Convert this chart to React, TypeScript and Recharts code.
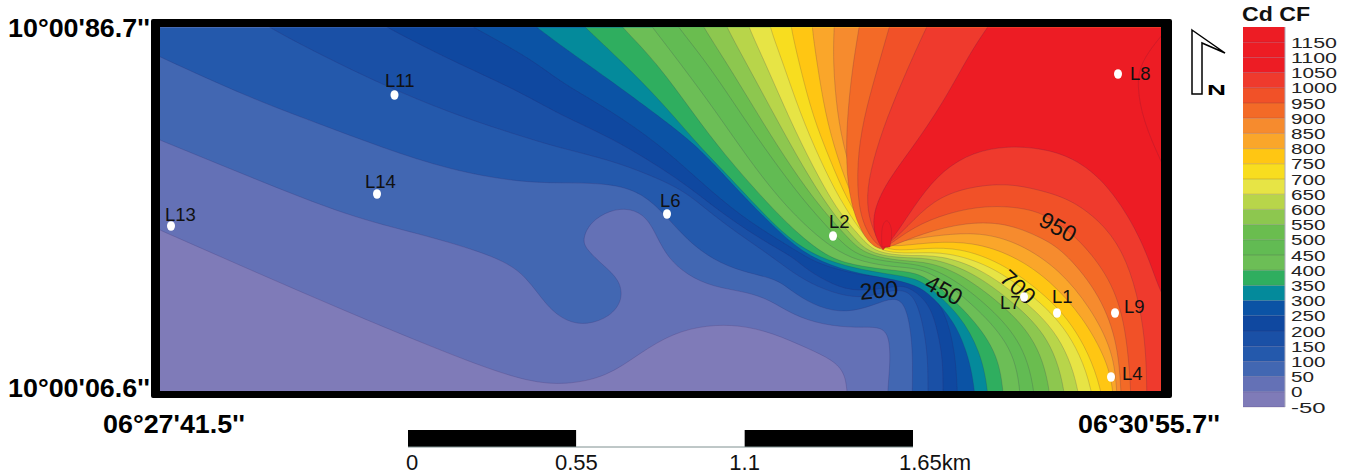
import {
  Bar,
  BarChart,
  ReferenceLine,
  Scatter,
  ScatterChart,
  XAxis,
  YAxis,
} from "recharts";

type Pt = [number, number];

// grid units of the map. x grows east, y grows south
const mapXDomain = [160, 1161];
const mapYDomain = [27.5, 391];

const cfLevels = [
  -50, 0, 50, 100, 150, 200, 250, 300, 350, 400, 450, 500, 550, 600, 650, 700,
  750, 800, 850, 900, 950, 1000, 1050, 1100, 1150,
];
const cfColors = [
  "#7F7BB8", "#6471B6", "#4267B2", "#2459AC", "#1A50A6", "#0F48A0", "#0B53A5",
  "#048A9B", "#2FAE5F", "#6CBE56", "#62BB53", "#6ABD4F", "#8DC74F", "#B8D54A",
  "#E7E445", "#F8DD1F", "#FFC613", "#FAA62A", "#F68B2E", "#F36A27", "#F15128",
  "#EF3A2D", "#ED1C24", "#ED1C24", "#ED1C24",
];

const line0: Pt[] = [[100, -100], [125, 215], [160, 230], [255, 272], [350, 313], [420, 342], [483, 367], [530, 382], [565, 385], [607, 377], [640, 353], [673, 333], [707, 325], [740, 325], [773, 333], [807, 348], [833, 360], [845, 373], [848, 395], [850, 480]];
const line50: Pt[] = [[100, -100], [120, 124], [160, 140], [250, 177], [350, 217], [417, 233], [500, 257], [527, 277], [547, 307], [567, 322], [587, 325], [610, 317], [623, 300], [620, 280], [603, 265], [587, 250], [582, 240], [590, 222], [610, 210], [630, 208], [647, 217], [657, 237], [668, 258], [687, 275], [713, 287], [747, 292], [770, 300], [793, 315], [823, 325], [857, 328], [883, 326], [890, 340], [890, 367], [887, 395], [885, 480]];
const line100: Pt[] = [[100, -100], [120, 38], [160, 57], [250, 98], [317, 123], [383, 148], [450, 170], [517, 182], [560, 183], [610, 183], [643, 193], [667, 217], [687, 240], [713, 260], [743, 272], [777, 279], [790, 290], [813, 305], [840, 313], [867, 308], [890, 298], [903, 300], [910, 323], [913, 357], [912, 395], [912, 480]];
const line150: Pt[] = [[230, -100], [250, 15], [270, 28], [317, 53], [383, 85], [450, 113], [517, 135], [560, 148], [610, 160], [650, 175], [683, 190], [707, 210], [737, 233], [767, 253], [793, 273], [817, 287], [847, 297], [870, 297], [890, 290], [913, 290], [923, 323], [928, 357], [928, 395], [928, 480]];
const line200: Pt[] = [[350, -100], [365, 15], [388, 28], [450, 60], [517, 90], [560, 115], [610, 137], [660, 167], [693, 190], [727, 217], [767, 243], [793, 257], [807, 270], [833, 285], [857, 292], [893, 287], [907, 285], [930, 303], [938, 333], [943, 360], [943, 395], [943, 480]];
const line250: Pt[] = [[440, -100], [455, 17], [475, 28], [533, 60], [560, 82], [610, 110], [660, 145], [693, 175], [733, 210], [767, 233], [800, 253], [820, 265], [870, 278], [900, 275], [925, 285], [945, 310], [955, 350], [958, 395], [958, 480]];
const line300: Pt[] = [[500, -100], [520, 15], [538, 28], [560, 45], [607, 78], [660, 117], [693, 143], [713, 163], [747, 200], [780, 233], [810, 258], [853, 273], [887, 278], [917, 285], [933, 297], [953, 320], [967, 350], [977, 395], [977, 480]];
const line350: Pt[] = [[560, -100], [572, 15], [586, 28], [620, 60], [660, 100], [700, 147], [720, 167], [757, 207], [790, 240], [820, 258], [853, 268], [887, 274], [917, 278], [933, 290], [960, 315], [980, 350], [990, 395], [990, 480]];
const line400: Pt[] = [[600, -100], [612, 15], [623, 28], [657, 63], [693, 113], [723, 153], [767, 203], [797, 233], [827, 257], [853, 265], [887, 270], [917, 272], [937, 285], [967, 312], [997, 350], [1005, 395], [1005, 480]];
const line450: Pt[] = [[630, -100], [643, 15], [653, 28], [683, 67], [717, 113], [747, 157], [780, 200], [813, 233], [840, 253], [863, 262], [893, 267], [920, 268], [943, 280], [977, 308], [1013, 347], [1022, 395], [1022, 480]];
const line500: Pt[] = [[660, -100], [670, 15], [679, 28], [710, 67], [743, 117], [773, 160], [803, 200], [830, 230], [850, 251], [870, 259], [900, 263], [923, 265], [953, 278], [990, 307], [1023, 343], [1037, 395], [1037, 480]];
const line550: Pt[] = [[690, -100], [697, 15], [704, 28], [733, 73], [763, 123], [793, 170], [820, 207], [847, 237], [860, 250], [877, 257], [903, 261], [930, 262], [963, 275], [1003, 305], [1037, 340], [1053, 395], [1053, 480]];
const line600: Pt[] = [[715, -100], [722, 15], [727, 28], [750, 70], [777, 120], [803, 167], [830, 210], [853, 237], [866, 250], [883, 256], [907, 258], [933, 258], [973, 272], [1013, 302], [1050, 337], [1068, 395], [1068, 480]];
const line650: Pt[] = [[740, -100], [745, 15], [749, 28], [767, 67], [790, 120], [813, 167], [837, 210], [857, 233], [871, 249], [887, 254], [910, 256], [940, 255], [980, 268], [1020, 297], [1060, 333], [1083, 395], [1083, 480]];
const line700: Pt[] = [[765, -100], [768, 15], [770, 28], [783, 63], [800, 113], [820, 160], [840, 200], [860, 230], [875, 248], [892, 253], [917, 253], [947, 252], [990, 265], [1030, 293], [1070, 330], [1097, 395], [1097, 480]];
const line750: Pt[] = [[788, -100], [790, 15], [791, 28], [800, 67], [813, 117], [830, 160], [847, 200], [865, 228], [879, 247], [898, 251], [927, 248], [960, 248], [1000, 262], [1040, 290], [1077, 327], [1107, 395], [1107, 480]];
const line800: Pt[] = [[812, -100], [812, 15], [812, 28], [817, 63], [825, 113], [837, 157], [853, 200], [868, 227], [882, 246], [902, 246], [933, 242], [973, 242], [1013, 255], [1050, 280], [1083, 317], [1107, 360], [1115, 395], [1115, 480]];
const line850: Pt[] = [[836, -100], [835, 15], [834, 28], [833, 63], [837, 113], [845, 153], [857, 190], [870, 223], [885, 244], [907, 240], [940, 235], [980, 232], [1020, 243], [1060, 270], [1090, 307], [1113, 350], [1118, 395], [1118, 480]];
const line900: Pt[] = [[868, -100], [861, 15], [859, 28], [852, 70], [847, 120], [846, 163], [850, 203], [863, 237], [878, 250], [888, 248], [923, 233], [967, 222], [1007, 223], [1040, 237], [1063, 250], [1097, 290], [1117, 337], [1122, 395], [1122, 480]];
const line950: Pt[] = [[905, -100], [893, 15], [889, 28], [877, 70], [863, 120], [857, 163], [858, 207], [867, 233], [880, 248], [887, 247], [913, 227], [947, 213], [987, 205], [1027, 208], [1050, 217], [1077, 237], [1107, 273], [1125, 317], [1132, 395], [1132, 480]];
const line1000: Pt[] = [[960, -100], [933, 15], [926, 28], [907, 70], [887, 117], [872, 163], [866, 197], [870, 223], [880, 244], [887, 246], [907, 227], [933, 200], [967, 187], [1007, 183], [1040, 190], [1073, 200], [1107, 227], [1127, 260], [1140, 305], [1146, 350], [1147, 395], [1147, 480]];
const line1050: Pt[] = [[1050, -100], [996, 15], [987, 28], [970, 53], [943, 103], [913, 147], [883, 187], [872, 217], [875, 237], [883, 250], [883, 250], [883, 250], [897, 233], [920, 197], [943, 170], [973, 152], [1007, 146], [1040, 148], [1073, 157], [1107, 183], [1137, 230], [1153, 270], [1170, 320]];
// the two small closures of the top classes, same red, only their line shows
const line1100: Pt[] = [[882, 247], [882, 247], [881, 227], [887, 217], [893, 230], [890, 247], [890, 247]];
const line1150: Pt[] = [[1175, 20], [1160, 37], [1140, 63], [1137, 87], [1143, 120], [1160, 160], [1180, 200], [1300, 200], [1300, 20]];

const farEdge: Pt[] = [[1300, 480], [1300, 480], [1300, 480], [1300, -100], [1300, -100], [1300, -100]];
const outerBox: Pt[] = [[-200, -200], [-200, -200], [-200, -200], [1500, -200], [1500, -200], [1500, -200], [1500, 700], [1500, 700], [1500, 700], [-200, 700], [-200, 700], [-200, 700]];

const contourLines: Pt[][] = [
  outerBox, line0, line50, line100, line150, line200, line250, line300, line350,
  line400, line450, line500, line550, line600, line650, line700, line750,
  line800, line850, line900, line950, line1000, line1050,
];

const stations = [
  { name: "L11", x: 394.5, y: 95 },
  { name: "L14", x: 377, y: 194 },
  { name: "L13", x: 171, y: 226 },
  { name: "L6", x: 667, y: 214 },
  { name: "L2", x: 833, y: 236 },
  { name: "L8", x: 1118, y: 74 },
  { name: "L1", x: 1057, y: 313 },
  { name: "L9", x: 1115, y: 313 },
  { name: "L4", x: 1111, y: 377 },
  { name: "L7", x: 1024, y: 297 },
];
const stationLabelShift: Record<string, Pt> = {
  L11: [-9.5, -8], L14: [-12, -6], L13: [-6, -5], L6: [-7, -7], L2: [-4, -8],
  L8: [12, 6], L1: [-5, -10], L9: [9, 0], L4: [11, 3], L7: [-24, 12],
};

const contourLabels = [
  { text: "200", x: 879, y: 290, angle: -5 },
  { text: "450", x: 944, y: 290, angle: 29 },
  { text: "700", x: 1018, y: 287, angle: 42 },
  { text: "950", x: 1058, y: 227, angle: 29 },
];

const xTicks = [174, 1149];
const xTickLabels = ["06°27'41.5''", "06°30'55.7''"];
const yTicks = [28, 388];
const yTickLabels = ["10°00'86.7''", "10°00'06.6''"];

const scaleTicks = [0, 0.55, 1.1, 1.65];
const scaleTickLabels = ["0", "0.55", "1.1", "1.65km"];
const scaleSegments = [0.55, 0.55, 0.55];

const legendRow: Record<string, number | string> = { name: "Cd CF" };
cfLevels.forEach((level) => {
  legendRow[`b${level}`] = level < 0 ? -50 : 50;
});
const scaleRow: Record<string, number | string> = { name: "km" };
scaleSegments.forEach((v, i) => {
  scaleRow[`s${i}`] = v;
});

const toPoints = (pts: Pt[]) => pts.map(([x, y]) => ({ x, y }));
const NoDot = () => <g />;
const FONT = '"Liberation Sans", Arial, sans-serif';

const CoordTickX = ({ x, y, index }: any) => (
  <text x={x} y={y + 34} textAnchor="middle" fontFamily={FONT} fontWeight="bold" fontSize={26} fill="#000" textLength={142} lengthAdjust="spacingAndGlyphs">
    {xTickLabels[index]}
  </text>
);

const CoordTickY = ({ y, index }: any) => (
  <text x={8} y={y + 9} fontFamily={FONT} fontWeight="bold" fontSize={26} fill="#000" textLength={142} lengthAdjust="spacingAndGlyphs">
    {yTickLabels[index]}
  </text>
);

const StationDot = ({ cx, cy, payload }: any) => {
  const [dx, dy] = stationLabelShift[payload.name];
  return (
    <g>
      <ellipse cx={cx} cy={cy} rx={4} ry={4.8} fill="#fff" />
      <text x={cx + dx} y={cy + dy} fontFamily={FONT} fontSize={18.5} fill="#111">
        {payload.name}
      </text>
    </g>
  );
};

const ContourLabel = ({ cx, cy, payload }: any) => (
  <text x={cx} y={cy + 8} textAnchor="middle" fontFamily={FONT} fontSize={23} fill="#111" transform={`rotate(${payload.angle} ${cx} ${cy})`}>
    {payload.text}
  </text>
);

const LegendTick = ({ x, y, payload }: any) => {
  const s = String(payload.value);
  return (
    <text x={x - 2} y={y + 5.5} fontFamily={FONT} fontSize={15} fill="#222" textLength={s.length * 11.5} lengthAdjust="spacingAndGlyphs">
      {s}
    </text>
  );
};

const ScaleTick = ({ x, y, index }: any) => {
  const shift = index === 0 ? 4 : index === 3 ? 22 : 0;
  return (
    <text x={x + shift} y={y + 15} textAnchor="middle" fontFamily={FONT} fontSize={22} fill="#111">
      {scaleTickLabels[index]}
    </text>
  );
};

export default function App() {
  return (
    <div style={{ position: "absolute", left: 0, top: 0, width: 1356, height: 476, background: "#fff", overflow: "hidden" }}>
      <div style={{ position: "absolute", left: 0, top: 0 }}>
        <ScatterChart width={1356} height={476} margin={{ top: 27.5, right: 195, bottom: 0, left: 0 }}>
          <XAxis
            type="number"
            dataKey="x"
            domain={mapXDomain}
            allowDataOverflow
            ticks={xTicks}
            interval={0}
            height={85}
            axisLine={false}
            tickLine={false}
            tick={<CoordTickX />}
          />
          <YAxis
            type="number"
            dataKey="y"
            domain={mapYDomain}
            reversed
            allowDataOverflow
            ticks={yTicks}
            interval={0}
            width={160}
            axisLine={false}
            tickLine={false}
            tick={<CoordTickY />}
          />
          {/* painted low to high, each class covers everything above its contour */}
          {contourLines.map((pts, i) => (
            <Scatter
              key={i}
              data={toPoints(i === 0 ? pts : [...pts, ...farEdge])}
              shape={NoDot}
              line={{ fill: cfColors[i], stroke: "rgba(50,30,90,0.3)", strokeWidth: 0.6 }}
              lineJointType="basisClosed"
              isAnimationActive={false}
            />
          ))}
          <Scatter data={toPoints(line1100)} shape={NoDot} line={{ fill: cfColors[23], stroke: "rgba(90,30,60,0.28)", strokeWidth: 0.6 }} lineJointType="basisClosed" isAnimationActive={false} />
          <Scatter data={toPoints(line1150)} shape={NoDot} line={{ fill: cfColors[24], stroke: "rgba(90,30,60,0.3)", strokeWidth: 0.6 }} lineJointType="basisClosed" isAnimationActive={false} />
          <Scatter data={contourLabels} shape={ContourLabel} isAnimationActive={false} />
          <Scatter data={stations} shape={StationDot} isAnimationActive={false} />
        </ScatterChart>
      </div>

      {/* thick map frame */}
      <div
        style={{
          position: "absolute",
          left: 151,
          top: 19,
          width: 1021,
          height: 379,
          boxSizing: "border-box",
          borderStyle: "solid",
          borderColor: "#000",
          borderWidth: "8.5px 11px 7px 9px",
          borderRadius: 2,
          pointerEvents: "none",
        }}
      />

      {/* colour scale */}
      <div style={{ position: "absolute", left: 1200, top: 0 }}>
        <BarChart width={156} height={476} data={[legendRow]} stackOffset="sign" barCategoryGap={0} margin={{ top: 27, right: 11, bottom: 69, left: 43 }}>
          <XAxis dataKey="name" hide />
          <YAxis
            orientation="right"
            domain={[-50, 1200]}
            ticks={cfLevels}
            interval={0}
            width={60}
            axisLine={{ stroke: "#aab" }}
            tickLine={false}
            tick={<LegendTick />}
          />
          {cfLevels.map((level, i) => (
            <Bar key={level} dataKey={`b${level}`} stackId="cf" fill={cfColors[i]} isAnimationActive={false} />
          ))}
          {cfLevels.map((level) => (
            <ReferenceLine key={level} y={level} stroke="rgba(60,30,80,0.2)" strokeWidth={1} />
          ))}
        </BarChart>
      </div>

      {/* scale bar */}
      <div style={{ position: "absolute", left: 358, top: 420 }}>
        <BarChart width={700} height={56} layout="vertical" data={[scaleRow]} barCategoryGap={0} margin={{ top: 10, right: 145, bottom: 0, left: 50 }}>
          <XAxis
            type="number"
            domain={[0, 1.65]}
            ticks={scaleTicks}
            interval={0}
            height={29}
            axisLine={{ stroke: "#7f9090" }}
            tickLine={false}
            tick={<ScaleTick />}
          />
          <YAxis type="category" dataKey="name" hide />
          {scaleSegments.map((_, i) => (
            <Bar key={i} dataKey={`s${i}`} stackId="scale" fill={i === 1 ? "#fff" : "#000"} isAnimationActive={false} />
          ))}
        </BarChart>
      </div>

      {/* north arrow and legend title */}
      <svg style={{ position: "absolute", left: 1180, top: 0 }} width={176} height={110}>
        <polygon points="12,30 45,53 22,43 22,94 12,94" fill="#fff" stroke="#000" strokeWidth={1.5} />
        <text x={27} y={95} fontFamily={FONT} fontWeight="bold" fontSize={14} fill="#000" textLength={19} lengthAdjust="spacingAndGlyphs">N</text>
        <text x={62} y={21} fontFamily={FONT} fontWeight="bold" fontSize={21} fill="#111" textLength={68} lengthAdjust="spacingAndGlyphs">Cd CF</text>
      </svg>
    </div>
  );
}
